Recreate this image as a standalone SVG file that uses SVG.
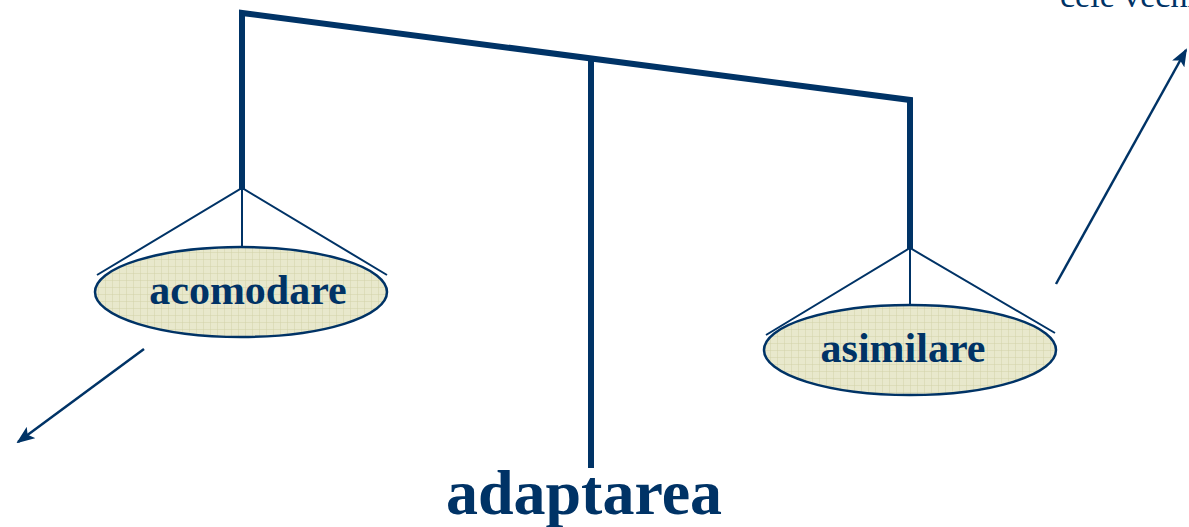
<svg xmlns="http://www.w3.org/2000/svg" width="1189" height="527" viewBox="0 0 1189 527">
<style>
.thick{stroke:#003366;stroke-width:6;fill:none}
.thin{stroke:#003366;stroke-width:2;fill:none}
.pan{fill:url(#grid);stroke:#003366;stroke-width:2.5}
.lbl{font-family:"Liberation Serif",serif;font-weight:bold;fill:#003366;text-anchor:middle}
</style>
<defs>
<pattern id="grid" width="7" height="7" patternUnits="userSpaceOnUse">
<rect width="7" height="7" fill="#e8e8cc"/>
<path d="M0 0H7M0 0V7" stroke="#d2d2a8" stroke-width="1"/>
</pattern>
<marker id="ah" markerWidth="18" markerHeight="14" refX="16" refY="7" orient="auto" markerUnits="userSpaceOnUse" viewBox="0 0 18 14">
<path d="M0 0L18 7L0 14L4 7z" fill="#003366"/>
</marker>
</defs>
<g id="connectors">
<path class="thick" d="M242 190V13L910 100V249"/>
<path class="thick" d="M591 58V468"/>
<path class="thin" d="M97 275L242 188L387 275M242 188V247"/>
<path class="thin" d="M766 335L910 248L1055 333M910 248V305"/>
<line class="thin" x1="144" y1="349" x2="18" y2="442" marker-end="url(#ah)" style="stroke-width:2.5"/>
<line class="thin" x1="1056" y1="284" x2="1186" y2="50" marker-end="url(#ah)" style="stroke-width:2.5"/>
</g>
<g id="acomodare">
<ellipse class="pan" cx="241" cy="292" rx="146" ry="45"/>
<text class="lbl" x="248" y="304" font-size="42">acomodare</text>
</g>
<g id="asimilare">
<ellipse class="pan" cx="910" cy="350" rx="146" ry="45"/>
<text class="lbl" x="903" y="362" font-size="42">asimilare</text>
</g>
<g id="adaptarea">
<text class="lbl" x="584" y="514" font-size="64">adaptarea</text>
</g>
<g id="cele-vechi">
<text x="1060" y="7" font-family="Liberation Serif,serif" font-size="34" fill="#003366">cele vechi</text>
</g>
</svg>
